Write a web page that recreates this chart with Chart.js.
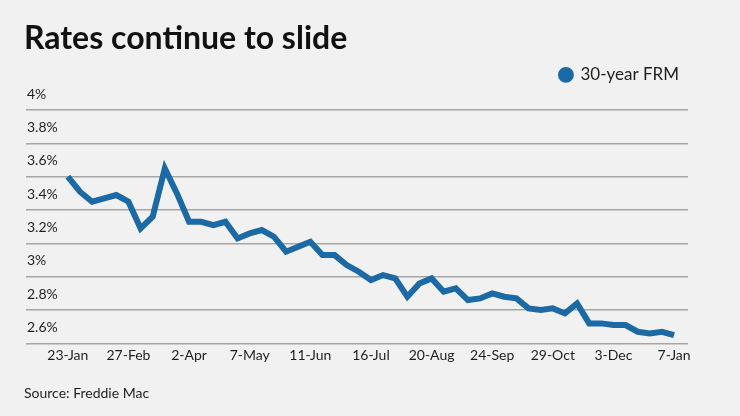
<!DOCTYPE html>
<html>
<head>
<meta charset="utf-8">
<script src="https://cdn.jsdelivr.net/npm/chart.js@4/dist/chart.umd.min.js"></script>
<style>
  html, body { margin: 0; padding: 0; background: #f0f1f0; }
  #wrap { width: 740px; height: 416px; }
</style>
</head>
<body>
<div id="wrap"><canvas id="rates-chart"></canvas></div>
<script>
// weekly dates, 23-Jan-2020 .. 7-Jan-2021
const weeks = [
  '23-Jan', '30-Jan', '6-Feb', '13-Feb', '20-Feb', '27-Feb', '5-Mar', '12-Mar', '19-Mar', '26-Mar',
  '2-Apr', '9-Apr', '16-Apr', '23-Apr', '30-Apr', '7-May', '14-May', '21-May', '28-May', '4-Jun',
  '11-Jun', '18-Jun', '25-Jun', '2-Jul', '9-Jul', '16-Jul', '23-Jul', '30-Jul', '6-Aug', '13-Aug',
  '20-Aug', '27-Aug', '3-Sep', '10-Sep', '17-Sep', '24-Sep', '1-Oct', '8-Oct', '15-Oct', '22-Oct',
  '29-Oct', '5-Nov', '12-Nov', '19-Nov', '25-Nov', '3-Dec', '10-Dec', '17-Dec', '24-Dec', '31-Dec',
  '7-Jan'
];

// 30-year fixed rate mortgage, %
const frm30 = [
  3.60, 3.51, 3.45, 3.47, 3.49, 3.45, 3.29, 3.36, 3.65, 3.50,
  3.33, 3.33, 3.31, 3.33, 3.23, 3.26, 3.28, 3.24, 3.15, 3.18,
  3.21, 3.13, 3.13, 3.07, 3.03, 2.98, 3.01, 2.99, 2.88, 2.96,
  2.99, 2.91, 2.93, 2.86, 2.87, 2.90, 2.88, 2.87, 2.81, 2.80,
  2.81, 2.78, 2.84, 2.72, 2.72, 2.71, 2.71, 2.67, 2.66, 2.67,
  2.65
];

const yTicks = [2.6, 2.8, 3.0, 3.2, 3.4, 3.6, 3.8, 4.0];
const labelEvery = 5;

const fontFamily = 'Lato, "Open Sans", sans-serif';
const textColor = '#1e1e1e';

const points = frm30.map((v, i) => ({ x: i, y: v }));

const ctx = document.getElementById('rates-chart').getContext('2d');
new Chart(ctx, {
  type: 'line',
  data: {
    datasets: [{
      label: '30-year FRM',
      data: points,
      borderColor: '#1b69a5',
      backgroundColor: '#1b69a5',
      borderWidth: 6,
      borderJoinStyle: 'miter',
      pointRadius: 0,
      fill: false,
      tension: 0
    }]
  },
  options: {
    responsive: true,
    maintainAspectRatio: false,
    animation: false,
    layout: { padding: { left: 24, right: 52, top: 0, bottom: 0 } },
    plugins: {
      title: {
        display: true,
        text: 'Rates continue to slide',
        align: 'start',
        color: '#111',
        font: { family: fontFamily, size: 32, weight: 'bold' },
        padding: { top: 19, bottom: 0 }
      },
      subtitle: {
        display: true,
        position: 'bottom',
        text: 'Source: Freddie Mac',
        align: 'start',
        color: textColor,
        font: { family: fontFamily, size: 14 },
        padding: { top: 17, bottom: 14 }
      },
      legend: {
        display: true,
        position: 'top',
        align: 'end',
        labels: {
          usePointStyle: true,
          pointStyle: 'circle',
          boxWidth: 12,
          boxHeight: 7,
          padding: 9,
          color: textColor,
          font: { family: fontFamily, size: 17 }
        }
      },
      tooltip: { enabled: false }
    },
    scales: {
      x: {
        type: 'linear',
        min: -3.45,
        max: 51.15,
        border: { display: false },
        grid: { display: false, drawTicks: false },
        afterBuildTicks: axis => {
          axis.ticks = weeks
            .map((w, i) => i)
            .filter(i => i % labelEvery === 0)
            .map(i => ({ value: i }));
        },
        ticks: {
          autoSkip: false,
          maxRotation: 0,
          padding: 4,
          color: textColor,
          font: { family: fontFamily, size: 14 },
          callback: value => weeks[value]
        }
      },
      y: {
        min: 2.6,
        max: 4.1,
        border: { display: false },
        grid: { color: '#a6a6a6', lineWidth: 1.5, drawTicks: false },
        afterBuildTicks: axis => {
          axis.ticks = yTicks.map(v => ({ value: v }));
        },
        ticks: {
          mirror: true,
          labelOffset: -16,
          padding: 1,
          color: textColor,
          font: { family: fontFamily, size: 14 },
          callback: value => (Math.round(value * 10) / 10) + '%'
        }
      }
    }
  }
});
</script>
</body>
</html>
